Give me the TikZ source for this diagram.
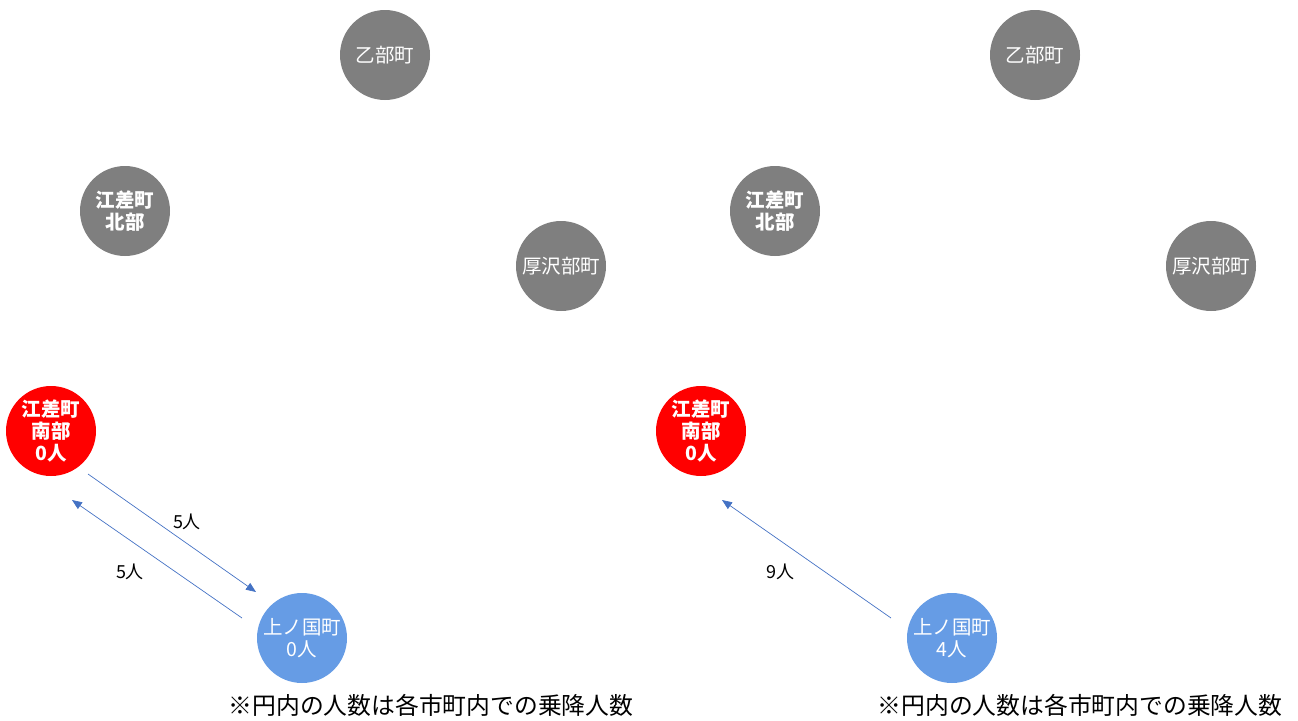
\documentclass[tikz,border=0pt]{standalone}
\usepackage{fontspec}
\setmainfont{Noto Sans CJK JP}
\usetikzlibrary{arrows.meta}
\definecolor{cgray}{HTML}{7F7F7F}
\definecolor{cred}{HTML}{FF0000}
\definecolor{cblue}{HTML}{669CE5}
\definecolor{carrow}{HTML}{4472C4}
\tikzset{
  town/.style={circle,minimum size=90pt,inner sep=0pt,text=white,align=center,
    font=\fontsize{19.5}{22}\selectfont},
  graytown/.style={town,fill=cgray},
  redtown/.style={town,fill=cred,font=\fontsize{19.5}{22}\selectfont\bfseries},
  bluetown/.style={town,fill=cblue},
  boldtown/.style={graytown,font=\fontsize{19.5}{22}\selectfont\bfseries},
  flow/.style={draw=carrow,line width=0.7pt,-{Triangle[length=10pt,width=8pt]}},
  flowlabel/.style={font=\fontsize{18}{20}\selectfont,text=black,inner sep=0pt},
  note/.style={font=\fontsize{23.8}{26}\selectfont,text=black,inner sep=0pt}
}
\begin{document}
\begin{tikzpicture}[x=1pt,y=-1pt]
\useasboundingbox (0,0) rectangle (1298,720);
% left panel
\node[graytown] (ot1) at (385,55) {乙部町};
\node[boldtown] (en1) at (125,211) {江差町\\北部};
\node[graytown] (as1) at (561,266) {厚沢部町};
\node[redtown] (es1) at (51,431) {江差町\\南部\\0人};
\node[bluetown] (kn1) at (302,638) {上ノ国町\\0人};
\coordinate (a1s) at (88,474);
\coordinate (a1e) at (256,592);
\coordinate (a2s) at (242,618);
\coordinate (a2e) at (72,500);
\draw[flow] (a1s) -- (a1e);
\draw[flow] (a2s) -- (a2e);
\node[flowlabel] (l1) at (187,522) {5人};
\node[flowlabel] (l2) at (130,572) {5人};
\node[note] (n1) at (431,705) {※円内の人数は各市町内での乗降人数};
% right panel
\node[graytown] (ot2) at (1035,55) {乙部町};
\node[boldtown] (en2) at (775,211) {江差町\\北部};
\node[graytown] (as2) at (1211,266) {厚沢部町};
\node[redtown] (es2) at (701,431) {江差町\\南部\\0人};
\node[bluetown] (kn2) at (952,638) {上ノ国町\\4人};
\coordinate (a3s) at (891,618);
\coordinate (a3e) at (722,500);
\draw[flow] (a3s) -- (a3e);
\node[flowlabel] (l3) at (780,572) {9人};
\node[note] (n2) at (1080,705) {※円内の人数は各市町内での乗降人数};
\end{tikzpicture}
\end{document}
